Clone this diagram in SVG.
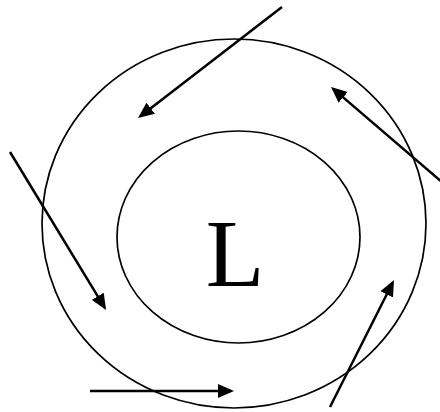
<svg xmlns="http://www.w3.org/2000/svg" width="440" height="412" viewBox="0 0 440 412">
<style>
.ring{fill:none;stroke:#000;stroke-width:1.7}
.arr{fill:none;stroke:#000;stroke-width:2.5;marker-end:url(#ah)}
.lbl{font-family:"Liberation Serif","Times New Roman",serif;font-size:96px;fill:#000}
</style>
<defs>
<marker id="ah" markerUnits="userSpaceOnUse" markerWidth="16" markerHeight="14" refX="13" refY="7" orient="auto">
<path d="M0,0 L16,7 L0,14 z" fill="#000"/>
</marker>
</defs>
<rect width="440" height="412" fill="#fff"/>
<g id="outer"><ellipse class="ring" cx="234" cy="223.5" rx="192" ry="184.5"/></g>
<g id="inner"><ellipse class="ring" cx="238.5" cy="237" rx="121.5" ry="106"/>
<text class="lbl" x="235" y="286" text-anchor="middle">L</text></g>
<g id="connectors">
<line class="arr" x1="282" y1="7" x2="140.4" y2="116.2"/>
<line class="arr" x1="443" y1="183" x2="333.3" y2="88.9"/>
<line class="arr" x1="10" y1="152" x2="104.5" y2="307.4"/>
<line class="arr" x1="90" y1="391" x2="231" y2="391"/>
<line class="arr" x1="330" y1="407" x2="392.6" y2="282.7"/>
</g>
</svg>
